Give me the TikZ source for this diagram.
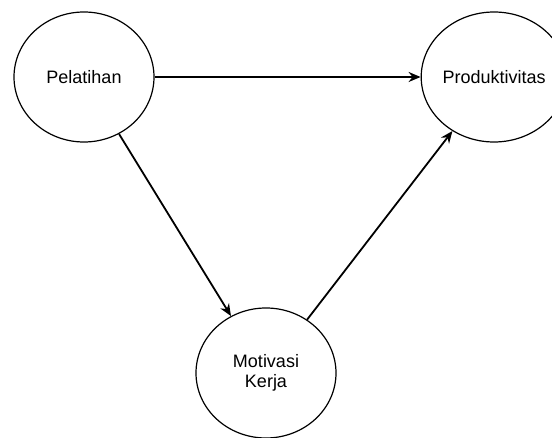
\documentclass[tikz,border=0pt]{standalone}
\usepackage{fontspec}
\setmainfont{Liberation Sans}
\usetikzlibrary{arrows.meta,shapes.geometric,positioning}

\begin{document}
\begin{tikzpicture}
          [x=0.5pt, y=-0.5pt,
           every node/.style={draw, ellipse, line width=0.6pt, minimum width=70pt,
             minimum height=65pt, inner sep=0pt, align=center, font=\fontsize{9}{10}\selectfont}]
          \useasboundingbox (0,0) rectangle (552,438);
          \node (pel) at (84,77) {Pelatihan};
          \node (pro) [right = 133pt of pel] {Produktivitas};
          \node (mot) at (266,373) {Motivasi\\Kerja};

          \draw[-{Stealth[length=6pt, width=5pt]}, line width=0.9pt] (pel) -- (pro);
          \draw[-{Stealth[length=6pt, width=5pt]}, line width=0.9pt] (pel) -- (mot);
          \draw[-{Stealth[length=6pt, width=5pt]}, line width=0.9pt] (mot) -- (pro);

        \end{tikzpicture}
\end{document}
